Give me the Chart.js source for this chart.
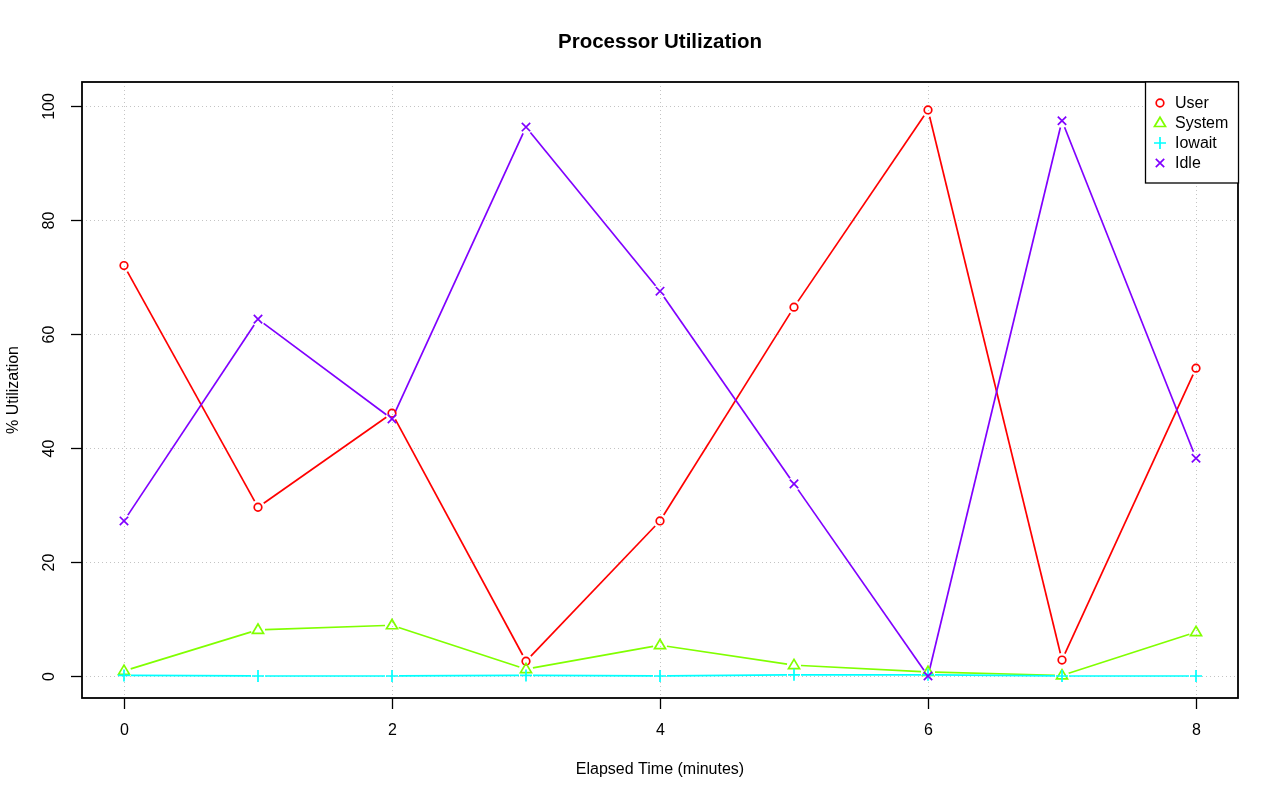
<!DOCTYPE html>
<html>
<head>
<meta charset="utf-8">
<script src="https://cdn.jsdelivr.net/npm/chart.js@4/dist/chart.umd.min.js"></script>
<style>
  html, body { margin: 0; padding: 0; background: #fff; }
  #wrap { width: 1280px; height: 801px; position: relative; }
</style>
</head>
<body>
<div id="wrap"><canvas id="chart" width="1280" height="801"></canvas></div>
<script>
// Elapsed minutes and utilization per series
const minutes = [0, 1, 2, 3, 4, 5, 6, 7, 8];
const userPct   = [72.0, 29.6, 46.1, 2.6, 27.2, 64.7, 99.3, 2.8, 54.0];
const systemPct = [0.9, 8.1, 8.9, 1.2, 5.4, 1.9, 0.7, 0.1, 7.7];
const iowaitPct = [0.1, 0.0, 0.0, 0.1, 0.0, 0.2, 0.2, 0.0, 0.0];
const idlePct   = [27.2, 62.6, 45.1, 96.3, 67.5, 33.7, 0.0, 97.4, 38.2];

const xTicks = [0, 2, 4, 6, 8];
const yTicks = [0, 20, 40, 60, 80, 100];

const seriesNames = ['User', 'System', 'Iowait', 'Idle'];
const seriesColors = ['#FF0000', '#80FF00', '#00FFFF', '#8000FF'];
const seriesStyles = ['circle', 'triangle', 'cross', 'crossRot'];
const seriesValues = [userPct, systemPct, iowaitPct, idlePct];

const FONT = '"Liberation Sans", Arial, Helvetica, sans-serif';

function drawMarker(ctx, style, x, y, color) {
    ctx.save();
    ctx.strokeStyle = color;
    ctx.lineWidth = 1.7;
    ctx.beginPath();
    if (style === 'circle') {
        ctx.arc(x, y, 3.8, 0, Math.PI * 2);
    } else if (style === 'triangle') {
        const r = 5.8;
        ctx.moveTo(x, y - r);
        ctx.lineTo(x + r * 0.95, y + r * 0.6);
        ctx.lineTo(x - r * 0.95, y + r * 0.6);
        ctx.closePath();
    } else if (style === 'cross') {
        ctx.moveTo(x - 6, y); ctx.lineTo(x + 6, y);
        ctx.moveTo(x, y - 6); ctx.lineTo(x, y + 6);
    } else {
        ctx.moveTo(x - 4.2, y - 4.2); ctx.lineTo(x + 4.2, y + 4.2);
        ctx.moveTo(x + 4.2, y - 4.2); ctx.lineTo(x - 4.2, y + 4.2);
    }
    ctx.stroke();
    ctx.restore();
}

// R-like frame: dotted grid, box, ticks, titles, legend, and lines with gaps at points
const basePlot = {
    id: 'basePlot',
    beforeDatasetsDraw(chart) {
        const ctx = chart.ctx;
        const xs = chart.scales.x, ys = chart.scales.y;
        const a = chart.chartArea;
        ctx.save();
        ctx.strokeStyle = '#c4c4c4';
        ctx.lineWidth = 1;
        ctx.setLineDash([1, 3]);
        xTicks.forEach(v => {
            const px = Math.round(xs.getPixelForValue(v)) + 0.5;
            ctx.beginPath(); ctx.moveTo(px, a.top); ctx.lineTo(px, a.bottom); ctx.stroke();
        });
        yTicks.forEach(v => {
            const py = Math.round(ys.getPixelForValue(v)) + 0.5;
            ctx.beginPath(); ctx.moveTo(a.left, py); ctx.lineTo(a.right, py); ctx.stroke();
        });
        ctx.restore();

        // connecting lines, leaving a gap around each point
        chart.data.datasets.forEach((ds, i) => {
            const pts = chart.getDatasetMeta(i).data;
            ctx.save();
            ctx.strokeStyle = ds.borderColor;
            ctx.lineWidth = 1.7;
            for (let k = 0; k < pts.length - 1; k++) {
                const p = pts[k], q = pts[k + 1];
                const dx = q.x - p.x, dy = q.y - p.y;
                const len = Math.hypot(dx, dy);
                const gap = 7;
                if (len <= gap * 2) continue;
                const ux = dx / len, uy = dy / len;
                ctx.beginPath();
                ctx.moveTo(p.x + ux * gap, p.y + uy * gap);
                ctx.lineTo(q.x - ux * gap, q.y - uy * gap);
                ctx.stroke();
            }
            ctx.restore();
        });
    },
    afterDatasetsDraw(chart) {
        const ctx = chart.ctx;
        const xs = chart.scales.x, ys = chart.scales.y;
        const a = chart.chartArea;

        chart.data.datasets.forEach((ds, i) => {
            chart.getDatasetMeta(i).data.forEach(p => {
                drawMarker(ctx, seriesStyles[i], p.x, p.y, ds.borderColor);
            });
        });

        ctx.save();
        ctx.strokeStyle = '#000';
        ctx.lineWidth = 1.8;
        ctx.strokeRect(a.left, a.top, a.right - a.left, a.bottom - a.top);

        ctx.fillStyle = '#000';
        ctx.font = '16px ' + FONT;
        ctx.lineWidth = 1.3;
        xTicks.forEach(v => {
            const px = Math.round(xs.getPixelForValue(v)) + 0.5;
            ctx.beginPath(); ctx.moveTo(px, a.bottom); ctx.lineTo(px, a.bottom + 11); ctx.stroke();
            ctx.textAlign = 'center'; ctx.textBaseline = 'middle';
            ctx.fillText(String(v), px, 731);
        });
        yTicks.forEach(v => {
            const py = Math.round(ys.getPixelForValue(v)) + 0.5;
            ctx.beginPath(); ctx.moveTo(a.left - 11, py); ctx.lineTo(a.left, py); ctx.stroke();
            ctx.save();
            ctx.translate(50, py);
            ctx.rotate(-Math.PI / 2);
            ctx.textAlign = 'center'; ctx.textBaseline = 'middle';
            ctx.fillText(String(v), 0, 0);
            ctx.restore();
        });

        ctx.textAlign = 'center'; ctx.textBaseline = 'middle';
        ctx.fillText('Elapsed Time (minutes)', (a.left + a.right) / 2, 770);
        ctx.save();
        ctx.translate(14, (a.top + a.bottom) / 2);
        ctx.rotate(-Math.PI / 2);
        ctx.fillText('% Utilization', 0, 0);
        ctx.restore();

        ctx.font = 'bold 20.5px ' + FONT;
        ctx.fillText('Processor Utilization', (a.left + a.right) / 2, 42);

        // legend box at top right
        const lx = 1145, ly = a.top, lw = a.right - 1145, lh = 101;
        ctx.fillStyle = '#fff';
        ctx.fillRect(lx, ly, lw, lh);
        ctx.strokeStyle = '#000';
        ctx.lineWidth = 1.3;
        ctx.strokeRect(lx + 0.5, ly, lw, lh);
        ctx.font = '16px ' + FONT;
        ctx.textAlign = 'left';
        seriesNames.forEach((name, i) => {
            const yy = 103 + i * 20;
            drawMarker(ctx, seriesStyles[i], 1160, yy, seriesColors[i]);
            ctx.fillStyle = '#000';
            ctx.fillText(name, 1175, yy + 1);
        });
        ctx.restore();
    }
};

const ctx = document.getElementById('chart').getContext('2d');
new Chart(ctx, {
    type: 'scatter',
    data: {
        datasets: seriesNames.map((name, i) => ({
            label: name,
            data: minutes.map((m, k) => ({ x: m, y: seriesValues[i][k] })),
            borderColor: seriesColors[i],
            backgroundColor: seriesColors[i],
            pointRadius: 0,
            showLine: false
        }))
    },
    options: {
        responsive: false,
        animation: false,
        events: [],
        layout: { padding: { left: 82, right: 42, top: 82, bottom: 103 } },
        scales: {
            x: { type: 'linear', display: false, min: -0.3134, max: 8.3134 },
            y: { type: 'linear', display: false, min: -3.86, max: 104.2 }
        },
        plugins: {
            legend: { display: false },
            title: { display: false },
            tooltip: { enabled: false }
        }
    },
    plugins: [basePlot]
});
</script>
</body>
</html>
